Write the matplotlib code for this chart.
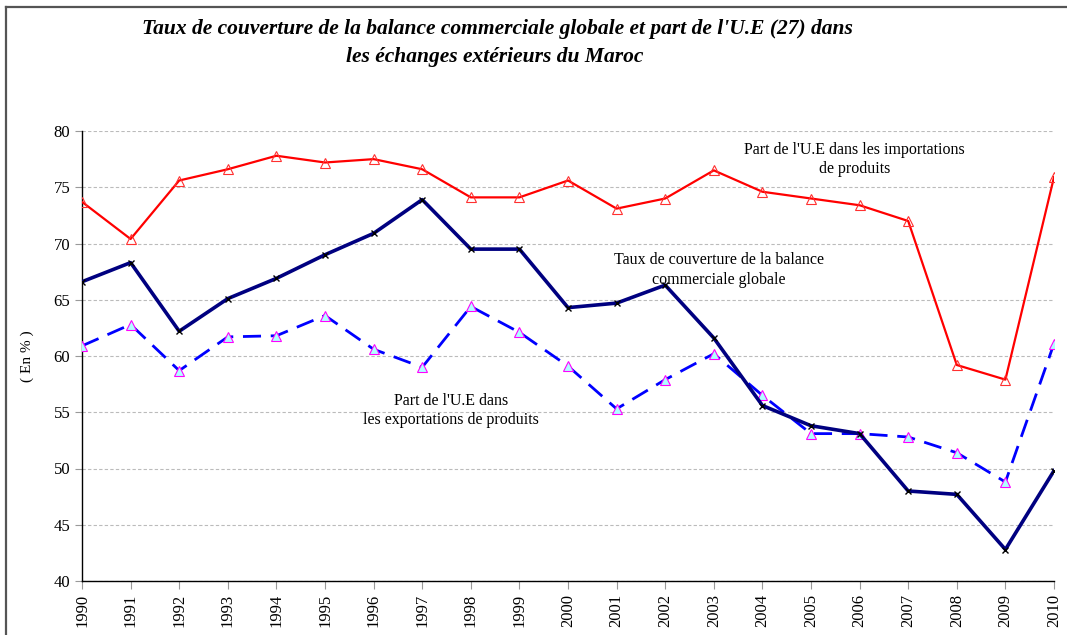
import matplotlib.pyplot as plt
from matplotlib.lines import Line2D

years = list(range(1990, 2011))

# part de l'UE dans les importations
part_import = [73.7, 70.4, 75.6, 76.6, 77.8, 77.2, 77.5, 76.6, 74.1, 74.1, 75.6,
               73.1, 74.0, 76.5, 74.6, 74.0, 73.4, 72.0, 59.2, 57.9, 75.9]
# taux de couverture de la balance commerciale globale
taux_couv = [66.6, 68.3, 62.2, 65.1, 66.9, 69.0, 70.9, 73.9, 69.5, 69.5, 64.3,
             64.7, 66.3, 61.6, 55.6, 53.8, 53.1, 48.0, 47.7, 42.8, 49.8]
# part de l'UE dans les exportations
part_export = [60.9, 62.8, 58.7, 61.7, 61.8, 63.6, 60.6, 59.0, 64.4, 62.1, 59.1,
               55.3, 57.9, 60.2, 56.5, 53.1, 53.1, 52.8, 51.4, 48.8, 61.1]

plt.rcParams['font.family'] = ['Liberation Serif', 'DejaVu Serif']

fig = plt.figure(figsize=(10.67, 6.35), dpi=100)
ax = fig.add_axes([82/1067, 1-581/635, (1054-82)/1067, (581-131)/635])

# cadre extérieur
fig.add_artist(Line2D([6/1067, 1.0], [1-7/635, 1-7/635], transform=fig.transFigure,
                      color='#555555', lw=1.6))
fig.add_artist(Line2D([6/1067, 6/1067], [0.0, 1-7/635], transform=fig.transFigure,
                      color='#555555', lw=1.6))

ax.plot(years, part_import, color='#ff0000', lw=1.6, marker='^', ms=7,
        mfc='none', mec='#ff3030', mew=0.8, zorder=3)
ax.plot(years, taux_couv, color='#000080', lw=2.6, marker='x', ms=5,
        mec='black', mew=1.0, zorder=4)
ax.plot(years, part_export, color='#0000ff', lw=2.0, dashes=(6.5, 3.5), marker='^', ms=7,
        mfc='#b0ffff', mec='#ff00ff', mew=0.8, zorder=3)

ax.set_xlim(1990, 2010)
ax.set_ylim(40, 80)
ax.set_xticks(years)
ax.set_xticklabels([str(y) for y in years], rotation=90, fontsize=12)
ax.set_yticks(range(40, 81, 5))
ax.tick_params(axis='y', labelsize=12, color='#999999', length=5)
ax.tick_params(axis='x', color='#999999', length=6)
ax.yaxis.grid(True, color='#bbbbbb', linestyle=(0, (3, 2)), lw=0.8)
for s in ['top', 'right']:
    ax.spines[s].set_visible(False)
ax.spines['left'].set_linewidth(1.0)
ax.spines['bottom'].set_linewidth(1.0)
ax.set_ylabel('( En % )', fontsize=11, labelpad=14)

ax.text(2005.9, 79.0, "Part de l'U.E dans les importations\nde produits", ha='center',
        va='top', fontsize=11.5, linespacing=1.25)
ax.text(2003.1, 69.2, "Taux de couverture de la balance\ncommerciale globale", ha='center',
        va='top', fontsize=11.5, linespacing=1.25)
ax.text(1997.6, 56.7, "Part de l'U.E dans\nles exportations de produits", ha='center',
        va='top', fontsize=11.5, linespacing=1.25)

fig.text(497/1067, 1-29/635,
         "Taux de couverture de la balance commerciale globale et part de l'U.E (27) dans",
         ha='center', va='center', fontsize=15.5, fontweight='bold', style='italic')
fig.text(495/1067, 1-57/635, "les échanges extérieurs du Maroc",
         ha='center', va='center', fontsize=15.5, fontweight='bold', style='italic')

fig.savefig('out.png', dpi=100)
